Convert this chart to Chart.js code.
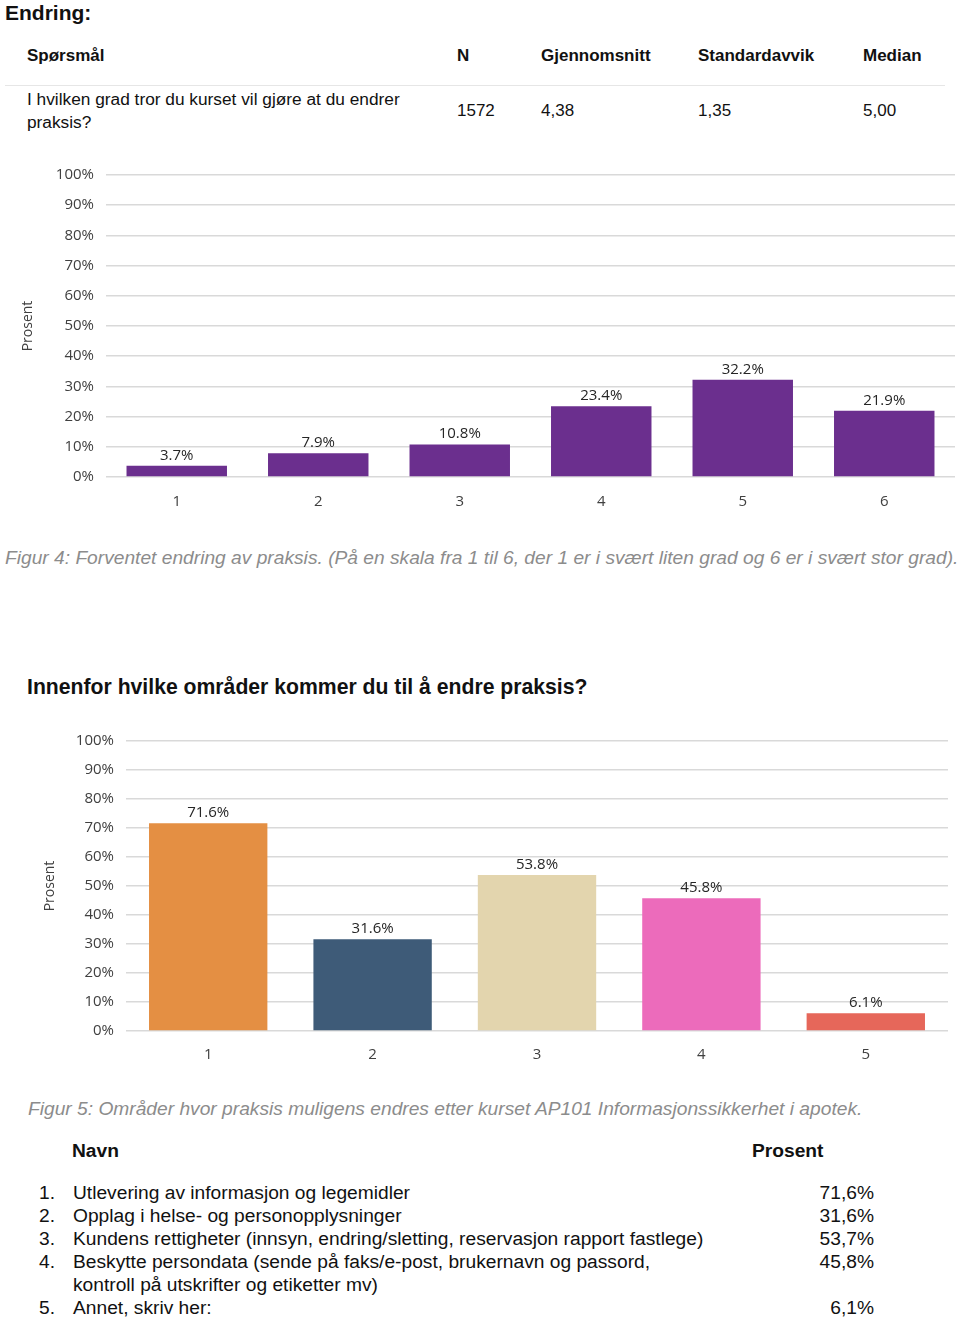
<!DOCTYPE html>
<html>
<head>
<meta charset="utf-8">
<script src="https://cdn.jsdelivr.net/npm/chart.js@4.4.1/dist/chart.umd.min.js"></script>
<style>
  body{ margin:0; background:#fff; width:960px; height:1321px; position:relative; overflow:hidden;
        font-family:"Liberation Sans", Arial, sans-serif; color:#111; }
  .t{ position:absolute; white-space:nowrap; line-height:1; }
  .b{ font-weight:bold; }
  .cap{ color:#8c8c8c; font-style:italic; font-size:19.2px; }
  .box{ position:absolute; }
</style>
</head>
<body>
<div class="t b" style="left:5px;top:2px;font-size:21px;">Endring:</div>

<div class="t b" style="left:27px;top:47px;font-size:17px;">Spørsmål</div>
<div class="t b" style="left:457px;top:47px;font-size:17px;">N</div>
<div class="t b" style="left:541px;top:47px;font-size:17px;">Gjennomsnitt</div>
<div class="t b" style="left:698px;top:47px;font-size:17px;">Standardavvik</div>
<div class="t b" style="left:863px;top:47px;font-size:17px;">Median</div>
<div style="position:absolute;left:5px;top:85px;width:940px;height:1px;background:#e6e6e6;"></div>
<div class="t" style="left:27px;top:91px;font-size:17.3px;">I hvilken grad tror du kurset vil gjøre at du endrer</div>
<div class="t" style="left:27px;top:114px;font-size:17.3px;">praksis?</div>
<div class="t" style="left:457px;top:102px;font-size:17px;">1572</div>
<div class="t" style="left:541px;top:102px;font-size:17px;">4,38</div>
<div class="t" style="left:698px;top:102px;font-size:17px;">1,35</div>
<div class="t" style="left:863px;top:102px;font-size:17px;">5,00</div>

<div class="box" style="left:0;top:154px;width:960px;height:366px;"><canvas id="c1"></canvas></div>

<div class="t cap" style="left:5px;top:548px;">Figur 4: Forventet endring av praksis. (På en skala fra 1 til 6, der 1 er i svært liten grad og 6 er i svært stor grad).</div>

<div class="t b" style="left:27px;top:676px;font-size:21.2px;">Innenfor hvilke områder kommer du til å endre praksis?</div>

<div class="box" style="left:0;top:720px;width:960px;height:350px;"><canvas id="c2"></canvas></div>

<div class="t cap" style="left:28px;top:1099px;">Figur 5: Områder hvor praksis muligens endres etter kurset AP101 Informasjonssikkerhet i apotek.</div>

<div id="list"></div>

<script>
// skala 1-6
const scaleCats = ['1', '2', '3', '4', '5', '6'];
const scaleVals = [3.7, 7.9, 10.8, 23.4, 32.2, 21.9];
// områder
const areaCats = ['1', '2', '3', '4', '5'];
const areaVals = [71.6, 31.6, 53.8, 45.8, 6.1];
const areaColors = ['#E48F43', '#3E5B78', '#E3D5AE', '#EC6BBB', '#E6675A'];
// tabell under figur 5
const listNames = [
  'Utlevering av informasjon og legemidler',
  'Opplag i helse- og personopplysninger',
  'Kundens rettigheter (innsyn, endring/sletting, reservasjon rapport fastlege)',
  'Beskytte persondata (sende på faks/e-post, brukernavn og passord,\nkontroll på utskrifter og etiketter mv)',
  'Annet, skriv her:'
];
const listPct = ['71,6%', '31,6%', '53,7%', '45,8%', '6,1%'];

const tickFont = { family: '"Open Sans", sans-serif', size: 15 };

// verdier over søylene
const valueLabels = {
  id: 'valueLabels',
  afterDatasetsDraw(chart){
    const ctx = chart.ctx;
    const ds = chart.data.datasets[0];
    ctx.save();
    ctx.font = '15px "Open Sans", sans-serif';
    ctx.fillStyle = '#262626';
    ctx.textAlign = 'center';
    ctx.textBaseline = 'bottom';
    chart.getDatasetMeta(0).data.forEach((bar, i) => {
      ctx.fillText(ds.data[i].toFixed(1) + '%', bar.x, bar.y - 3);
    });
    ctx.restore();
  }
};

function makeChart(id, cats, vals, colors, pad, yWidth, xHeight, xPad, barPct){
  return new Chart(document.getElementById(id), {
    type: 'bar',
    data: { labels: cats, datasets: [{ data: vals, backgroundColor: colors, barPercentage: barPct, categoryPercentage: 1 }] },
    options: {
      responsive: true,
      maintainAspectRatio: false,
      animation: false,
      layout: { padding: pad },
      plugins: { legend: { display: false }, tooltip: { enabled: false } },
      scales: {
        x: {
          grid: { display: false },
          border: { display: false },
          ticks: { font: tickFont, color: '#404040', padding: xPad },
          afterFit(s){ s.height = xHeight; }
        },
        y: {
          min: 0, max: 100,
          ticks: { stepSize: 10, font: tickFont, color: '#404040', padding: 12, callback: v => v + '%' },
          grid: { color: '#d9d9d9', lineWidth: 1.5, drawTicks: false },
          border: { display: false },
          title: { display: true, text: 'Prosent', font: { family: '"Open Sans", sans-serif', size: 14 }, color: '#404040', padding: { top: 0, bottom: 0 } },
          afterFit(s){ s.width = yWidth; }
        }
      }
    },
    plugins: [valueLabels]
  });
}

makeChart('c1', scaleCats, scaleVals, '#6B2F8E', { left: 20, right: 5, top: 9, bottom: 0 }, 86, 43, 8, 0.71);
makeChart('c2', areaCats, areaVals, areaColors, { left: 42, right: 12, top: 11, bottom: 0 }, 84, 39, 7, 0.72);

// liste
const list = document.getElementById('list');
function addText(txt, left, top, extra){
  const d = document.createElement('div');
  d.className = 't' + (extra ? ' ' + extra : '');
  d.style.left = left + 'px';
  d.style.top = top + 'px';
  d.style.fontSize = '19.2px';
  d.textContent = txt;
  list.appendChild(d);
  return d;
}
addText('Navn', 72, 1141, 'b');
addText('Prosent', 752, 1141, 'b');
let y = 1183;
listNames.forEach((name, i) => {
  addText((i + 1) + '.', 39, y);
  const lines = name.split('\n');
  lines.forEach((ln, k) => addText(ln, 73, y + k * 23));
  const p = addText(listPct[i], 0, y);
  p.style.left = 'auto';
  p.style.right = (960 - 874) + 'px';
  y += 23 * lines.length;
});
</script>
</body>
</html>
